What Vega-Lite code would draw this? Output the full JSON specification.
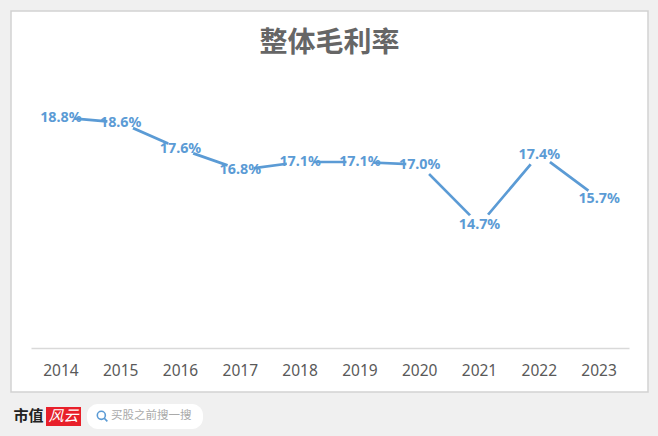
{
"$schema":"https://vega.github.io/schema/vega-lite/v6.json",
"width":637,"height":381,
"autosize":{"type":"none"},
"padding":{"left":11,"top":11,"right":10,"bottom":44},
"background":"#f0f0f0",
"view":{"fill":"#ffffff","stroke":"#d2d2d2","strokeWidth":1.5},
"title":{"text":"整体毛利率","font":"Noto Sans CJK SC","fontSize":28,"fontWeight":"bold","color":"#666666","anchor":"middle","offset":-47,"frame":"group"},
"data":{"values":[
{"year":"2014","rate":18.8,"label":"18.8%"},
{"year":"2015","rate":18.6,"label":"18.6%"},
{"year":"2016","rate":17.6,"label":"17.6%"},
{"year":"2017","rate":16.8,"label":"16.8%"},
{"year":"2018","rate":17.1,"label":"17.1%"},
{"year":"2019","rate":17.1,"label":"17.1%"},
{"year":"2020","rate":17.0,"label":"17.0%"},
{"year":"2021","rate":14.7,"label":"14.7%"},
{"year":"2022","rate":17.4,"label":"17.4%"},
{"year":"2023","rate":15.7,"label":"15.7%"}
]},
"encoding":{
"x":{"field":"year","type":"ordinal","scale":{"type":"band","range":[20,618]},
"axis":{"orient":"bottom","offset":-44,"labelAngle":0,"ticks":false,"domainColor":"#d9d9d9","domainWidth":1.5,"labelColor":"#595959","labelFont":"Noto Sans","labelFontSize":15.5,"labelPadding":15,"title":"买股之前搜一搜","titleOpacity":0}},
"y":{"field":"rate","type":"quantitative","scale":{"domain":[10,20],"range":[337,75]},
"axis":{"labels":false,"ticks":false,"domain":false,"grid":false,"title":"市值","titleAngle":0,"titleAlign":"left","titleBaseline":"middle","titleX":2,"titleY":404,"titleFont":"Noto Sans CJK SC","titleFontSize":15,"titleFontWeight":"bold","titleColor":"#222222"}}
},
"layer":[
{"mark":{"type":"line","strokeWidth":2.7,"clip":false},
"encoding":{
"color":{"datum":"买股之前搜一搜","scale":{"range":["#5b9bd5"]},
"legend":{"title":"\u00a0","titleOrient":"right","titlePadding":8,"titleFontSize":8,"orient":"none","legendX":76,"legendY":393,"fillColor":"#ffffff","cornerRadius":11,"padding":4,"symbolType":"M-0.7,-0.1A0.6,0.6 0 1 1 0.5,-0.1A0.6,0.6 0 1 1 -0.7,-0.1M0.32,0.32L0.8,0.8","symbolSize":180,"symbolOffset":3,"symbolStrokeWidth":1.6,"labelOffset":1,"labelFont":"Noto Sans CJK SC","labelFontSize":11.5,"labelColor":"#aaaaaa",
"encode":{"symbols":{"update":{"stroke":{"value":"#999999"},"fill":{"value":"transparent"}}}}}},
"opacity":{"datum":"风云","scale":{"range":[1]},
"legend":{"title":null,"orient":"none","legendX":35,"legendY":396,"fillColor":"#e8202a","cornerRadius":0,"padding":1.5,"symbolSize":1,"symbolOpacity":0,"labelOffset":-14,"labelFont":"Noto Sans CJK SC","labelFontSize":15,"labelColor":"#ffffff","labelFontStyle":"italic"}}
}},
{"mark":{"type":"circle","size":720,"fill":"#ffffff","opacity":1,"stroke":null}},
{"mark":{"type":"text","font":"Noto Sans","fontSize":14.3,"fontWeight":"bold","color":"#5b9bd5","baseline":"middle","dy":0.5},
"encoding":{"text":{"field":"label"}}}
]
}
